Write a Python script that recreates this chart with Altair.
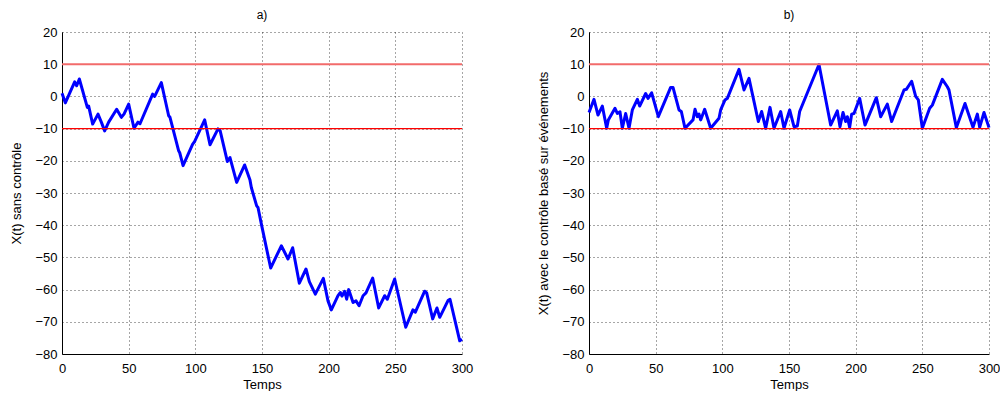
import altair as alt
import pandas as pd

# Panel a) : X(t) sans contrôle
ta = [0, 2.5, 9.5, 11, 13, 19, 20, 23, 27, 29.5, 32, 35, 41, 44.5, 46.5, 50, 54, 57, 58.5, 68,
      69.5, 74.5, 80, 81, 87.5, 88.3, 90.8, 98, 99.5, 107, 111, 117, 118.5, 124, 126, 131, 137, 141,
      142, 146, 147, 149.5, 156.5, 164.5, 166.5, 169.5, 173, 178, 183, 185.5, 190, 196, 199.5, 202,
      207, 208.8, 210, 212, 213.5, 215, 218.3, 220.5, 222.8, 225.8, 228, 233, 237.5, 242, 244, 249.5,
      257.8, 263.2, 265, 272, 273.5, 278, 281.2, 283.3, 289.5, 291, 298.3, 300]
va = [1, -2, 4.5, 3.3, 5.4, -3.4, -3, -8.6, -5.5, -8, -10.7, -8, -4, -6.5, -5.5, -2.4, -9.9, -8, -8.5, 0.7,
      0, 4.3, -6, -6.5, -16.9, -17.5, -21.5, -14.8, -14, -7.3, -15, -10.1, -10.5, -20.2, -19, -26.7, -21.3, -26,
      -28.3, -34, -34.5, -39.6, -53.3, -46.4, -48, -50.5, -47, -58, -53.6, -57.5, -61.4, -56.5, -63.5, -66.3,
      -61.9, -60.9, -62, -60.5, -63, -60, -64, -63.5, -65, -61.9, -61, -56.4, -65.7, -61.9, -63, -56.7,
      -71.7, -66.3, -67, -60.5, -61, -69.1, -65.7, -68.6, -63.4, -63, -75.9, -75.4]

# Panel b) : X(t) avec le contrôle basé sur événements
tb = [0, 3.75, 6.75, 10, 13.25, 14.5, 19.5, 21.25, 23.25, 25, 27.5, 30, 32.5, 36.25, 38, 42.5, 44.25, 47,
      52, 61.25, 63, 67.5, 69.25, 72, 78, 79.5, 81.25, 82.5, 83.75, 86.75, 91.25, 97.5, 98.75, 102, 103.75,
      112.5, 116.25, 120, 127, 129.5, 132.5, 135.75, 138.75, 143.75, 146.25, 150.5, 153.75, 156.25, 158,
      172.5, 181.25, 186.25, 188.25, 190.5, 192.5, 193.75, 195.5, 197, 198.75, 203, 207, 215.5, 218.75,
      223.75, 227, 236.25, 238, 242, 245, 247, 250, 255.5, 257.5, 265, 268.75, 270, 275.5, 282, 284.5,
      288, 291.25, 293, 296.25, 300]
vb = [-5, -0.9, -5.8, -3, -9.9, -7.3, -3.7, -5.3, -4.8, -9.9, -5.3, -9.9, -4.2, -0.9, -3, 0.9, -0.6, 1.1,
      -6.3, 2.8, 2.8, -4.2, -4.7, -9.9, -7.3, -4, -6.3, -5.5, -7.3, -4, -9.9, -6.8, -4.2, -1.1, -0.6,
      8.4, 2, 5.6, -7.8, -4.7, -9.9, -3.4, -9.9, -4.7, -9.9, -4.2, -9.4, -9.2, -4.7,
      9.9, -8.9, -4.5, -9.4, -5, -7.8, -6.3, -9.6, -5.5, -5.3, -0.6, -8.9, -0.4, -6.3,
      -2.4, -7.8, 2, 2.2, 4.7, 0, -1.1, -9.9, -3.7, -2.7, 5.3, 3, 2, -9.7, -2.2, -5.3,
      -9.6, -5.5, -9.6, -5, -9.7]

upper = 10
lower = -10
x_ticks = [0, 50, 100, 150, 200, 250, 300]
y_ticks = [-80, -70, -60, -50, -40, -30, -20, -10, 0, 10, 20]

FONT = "Liberation Sans"


def panel(t, v, letter, ytitle):
    df = pd.DataFrame({"t": t, "v": v})

    def yenc(field):
        return alt.Y(field, scale=alt.Scale(domain=[-80, 20], nice=False),
                     axis=alt.Axis(values=y_ticks, title=ytitle, format="d",
                                   labelOverlap=False))

    x = alt.X("t:Q", scale=alt.Scale(domain=[0, 300], nice=False),
              axis=alt.Axis(values=x_ticks, title="Temps", format="d", labelOverlap=False,
                            labelFlush=False))
    line = alt.Chart(df).mark_line(color="#0000ff", strokeWidth=3, strokeJoin="round").encode(
        x=x, y=yenc("v:Q"), order="t:Q")
    up = alt.Chart(pd.DataFrame({"v": [upper]})).mark_rule(
        color="#f26b6b", strokeWidth=2).encode(y=yenc("v:Q"))
    lo = alt.Chart(pd.DataFrame({"v": [lower]})).mark_rule(
        color="#ff0000", strokeWidth=1.2).encode(y=yenc("v:Q"))
    return alt.layer(line, up, lo).properties(
        width=400, height=322,
        title=alt.TitleParams(letter, fontSize=12, font=FONT, fontWeight="normal",
                              color="black", offset=4))


a = panel(ta, va, "a)", "X(t) sans contrôle")
b = panel(tb, vb, "b)", "X(t) avec le contrôle basé sur événements")

chart = alt.hconcat(a, b, spacing=127, bounds="flush").properties(
    padding={"left": 10, "top": 9, "right": 0, "bottom": 0}
).configure_view(stroke=None).configure_axis(
    labelFont=FONT, titleFont=FONT, labelFontSize=13, titleFontSize=13,
    labelColor="black", titleColor="black", titleFontWeight="normal",
    grid=True, gridDash=[1, 3], gridColor="#000000", gridOpacity=0.7, gridWidth=1,
    domainColor="black", domainWidth=1, ticks=False, labelPadding=5,
).configure_axisY(titlePadding=11).configure_axisX(labelPadding=8, titlePadding=3)

chart.save("out.html", embed_options={"renderer": "svg", "actions": False})
